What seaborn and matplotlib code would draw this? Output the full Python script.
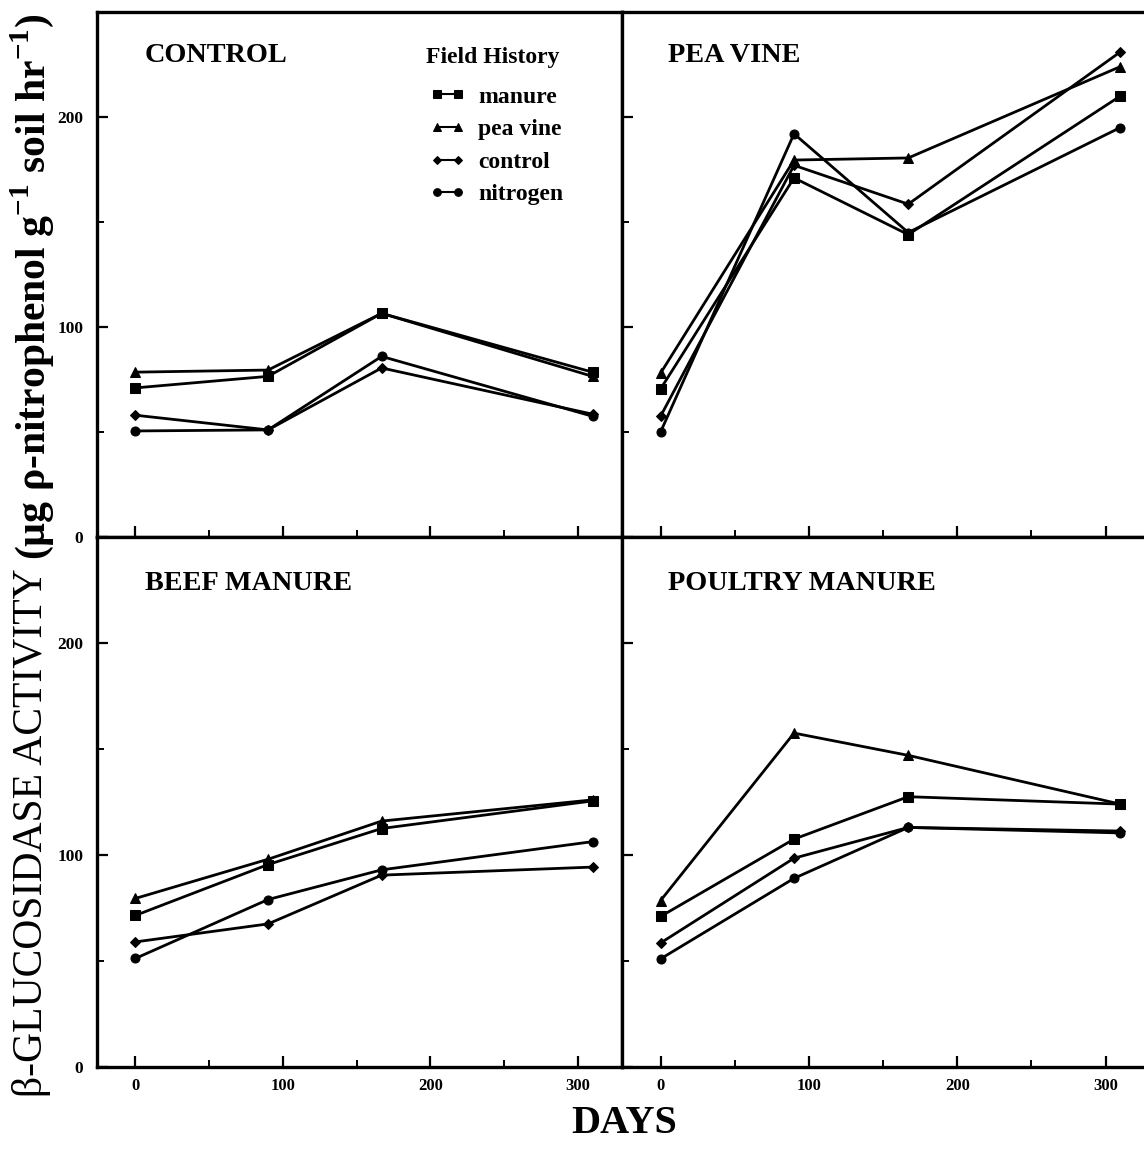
import matplotlib
matplotlib.use("Agg")
import matplotlib.pyplot as plt
import pandas as pd
import seaborn as sns

# Sampling days and field-history treatments
days = [0, 90, 167, 310]
histories = ["manure", "pea vine", "control", "nitrogen"]

# Beta-glucosidase activity per amendment panel, one list per field history
control_manure = [71, 76.5, 106.5, 78.5]
control_peavine = [78.5, 79.5, 106.5, 76.5]
control_control = [58, 51, 80.5, 58.5]
control_nitrogen = [50.5, 51, 86, 57.5]

peavine_manure = [70.5, 171, 144, 210]
peavine_peavine = [78, 179.5, 180.5, 224]
peavine_control = [57.5, 177, 158.5, 231]
peavine_nitrogen = [50, 192, 145, 195]

beef_manure = [71.5, 95.5, 112.5, 125.5]
beef_peavine = [79.5, 98, 116, 126]
beef_control = [59, 67.5, 90.5, 94.3]
beef_nitrogen = [51.2, 79, 93, 106.3]

poultry_manure = [71, 107.5, 127.5, 124]
poultry_peavine = [78.5, 157.5, 147, 124]
poultry_control = [58.5, 98.5, 113, 111.3]
poultry_nitrogen = [51, 89, 113, 110.4]

panel_titles = ["CONTROL", "PEA VINE", "BEEF MANURE", "POULTRY MANURE"]
panel_values = [
    [control_manure, control_peavine, control_control, control_nitrogen],
    [peavine_manure, peavine_peavine, peavine_control, peavine_nitrogen],
    [beef_manure, beef_peavine, beef_control, beef_nitrogen],
    [poultry_manure, poultry_peavine, poultry_control, poultry_nitrogen],
]

x_ticks = [0, 100, 200, 300]
y_ticks = [0, 100, 200]

sns.set_theme(style="ticks")
serif = ["Liberation Serif", "DejaVu Serif"]
plt.rcParams["font.family"] = serif
plt.rcParams["text.color"] = "black"
plt.rcParams["axes.labelcolor"] = "black"
plt.rcParams["xtick.color"] = "black"
plt.rcParams["ytick.color"] = "black"
plt.rcParams["mathtext.fontset"] = "custom"
plt.rcParams["mathtext.rm"] = "Liberation Serif:bold"
plt.rcParams["mathtext.bf"] = "Liberation Serif:bold"

markers = {"manure": "s", "pea vine": "^", "control": "D", "nitrogen": "o"}
marker_sizes = {"manure": 6.5, "pea vine": 7, "control": 5, "nitrogen": 6.5}

fig = plt.figure(figsize=(11.44, 11.52), dpi=100)

W, H = 1144, 1152
# panel rectangles in pixels: left, top, right, bottom
rects = [
    (97, 12, 622, 537),
    (622, 12, 1150, 537),
    (97, 537, 622, 1067),
    (622, 537, 1150, 1067),
]

axes = []
for i, (l, t, r, b) in enumerate(rects):
    ax = fig.add_axes([l / W, (H - b) / H, (r - l) / W, (b - t) / H])
    axes.append(ax)
    rows = []
    for hist, vals in zip(histories, panel_values[i]):
        for d, v in zip(days, vals):
            rows.append({"day": d, "activity": v, "history": hist})
    df = pd.DataFrame(rows)
    sns.lineplot(
        data=df, x="day", y="activity", style="history",
        style_order=histories, markers=markers, dashes=False,
        color="black", linewidth=2.0, markersize=6,
        markeredgecolor="black", ax=ax, legend=(i == 0), sort=False,
    )
    ax.set_xlim(-26, 330)
    ax.set_ylim(0, 250)
    ax.set_xlabel("")
    ax.set_ylabel("")
    ax.set_xticks(x_ticks)
    ax.set_xticks([50, 150, 250], minor=True)
    ax.set_yticks(y_ticks)
    ax.set_yticks([50, 150], minor=True)
    ax.tick_params(which="major", direction="in", length=8, width=1.6,
                   color="black", pad=10)
    ax.tick_params(axis="x", which="major", pad=8)
    ax.tick_params(which="minor", direction="in", length=5, width=1.4,
                   color="black")
    for side in ["left", "right", "top", "bottom"]:
        ax.spines[side].set_linewidth(2.4)
        ax.spines[side].set_color("black")
    if i in (0, 2):
        ax.set_yticklabels([str(v) for v in y_ticks], fontsize=12.5,
                           fontweight="bold")
    else:
        ax.set_yticklabels([])
    if i in (2, 3):
        ax.set_xticklabels([str(v) for v in x_ticks], fontsize=12,
                           fontweight="bold")
    else:
        ax.set_xticklabels([])
    ax.text(0.091 if i in (0, 2) else 0.087, 0.918 if i < 2 else 0.913,
            panel_titles[i], transform=ax.transAxes, fontsize=20.3,
            fontweight="bold", va="center", ha="left", color="black")

# adjust marker sizes per field history
for ax in axes:
    for line in ax.get_lines():
        m = line.get_marker()
        for hist, mk in markers.items():
            if m == mk:
                line.set_markersize(marker_sizes[hist])

# field-history key in the first panel
ax0 = axes[0]
leg = ax0.get_legend()
handles = leg.legend_handles
labels = [t.get_text() for t in leg.get_texts()]
leg.remove()
for h in handles:
    h.set_color("black")
    h.set_linewidth(1.5)
    for hist, mk in markers.items():
        if h.get_marker() == mk:
            h.set_markersize(marker_sizes[hist] * 0.85)
ax0.text((493 - 97) / 525, (537 - 57) / 525, "Field History",
         transform=ax0.transAxes, ha="center", va="center",
         fontsize=17, fontweight="bold", family=serif)
leg = ax0.legend(handles, labels, frameon=False,
                 loc="upper left", bbox_to_anchor=((430 - 97) / 525, (537 - 86) / 525),
                 prop={"family": serif, "weight": "bold", "size": 17},
                 handlelength=1.5, handletextpad=0.55, labelspacing=0.47,
                 numpoints=2, borderaxespad=0, borderpad=0)

# axis titles
fig.text(624 / W, 1 - 1133 / H, "DAYS", fontsize=29, fontweight="bold",
         ha="center", va="baseline", family=serif)

fig.canvas.draw()
renderer = fig.canvas.get_renderer()
part1 = fig.text(32 / W, 1 - 1097 / H, "β-GLUCOSIDASE ACTIVITY ",
                 rotation=90, fontsize=30, ha="center", va="bottom",
                 family=serif)
bb = part1.get_window_extent(renderer=renderer)
y_next = bb.y1 / fig.dpi / fig.get_size_inches()[1]
fig.text(32 / W, y_next, r"(µg ρ-nitrophenol g$^{\mathrm{-1}}$ soil hr$^{\mathrm{-1}}$)",
         rotation=90, fontsize=30, fontweight="bold", ha="center", va="bottom",
         family=serif)

fig.savefig("out.png", dpi=100)
